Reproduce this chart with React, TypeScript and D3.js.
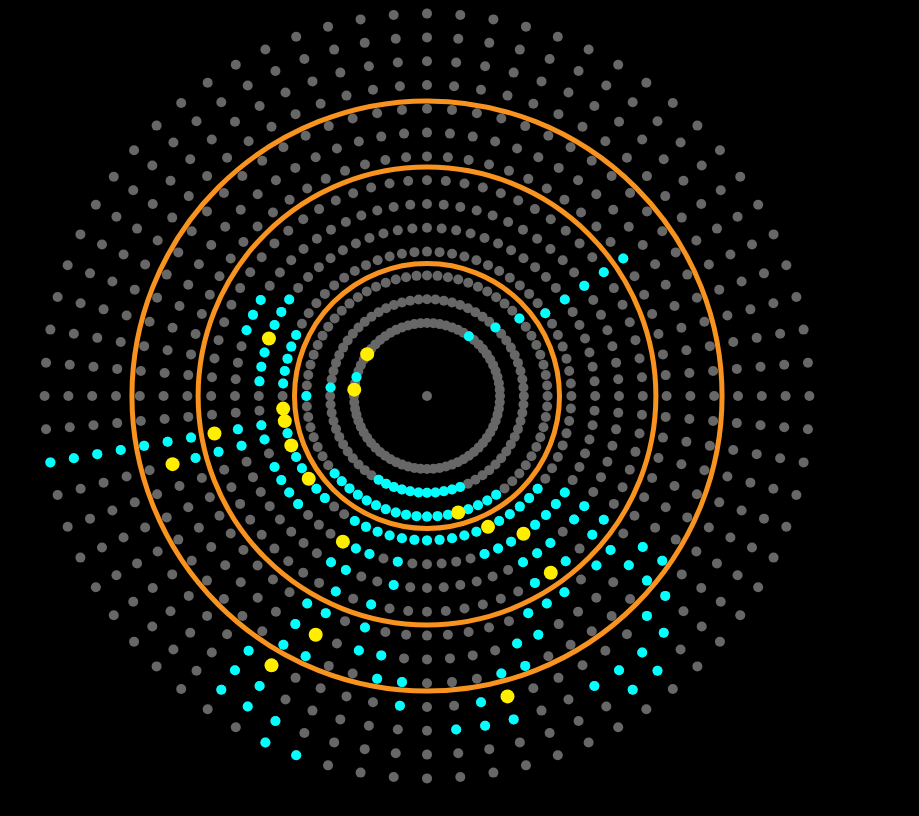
import * as d3 from 'd3'

const width = 919
const height = 816
const cx = 427
const cy = 396

const ringCount = 14
const spokeCount = 72

// highlighted dots: [ring, spoke]
const cyanDots: [number, number][] = [
    [0, 7], [0, 57],
    [1, 9], [1, 55], [1, 32], [1, 33], [1, 34], [1, 35], [1, 36], [1, 37], [1, 38], [1, 39], [1, 40], [1, 41], [1, 42],
    [2, 10], [2, 54], [2, 29], [2, 30], [2, 31], [2, 32], [2, 34], [2, 35], [2, 36], [2, 37], [2, 38], [2, 39],
    [2, 40], [2, 41], [2, 42], [2, 43], [2, 44], [2, 45], [2, 46],
    [3, 11], [3, 26], [3, 27], [3, 28], [3, 29], [3, 30], [3, 32], [3, 33], [3, 34], [3, 35], [3, 36], [3, 37],
    [3, 38], [3, 39], [3, 40], [3, 41], [3, 42], [3, 45], [3, 46], [3, 48], [3, 49], [3, 51], [3, 55], [3, 56],
    [3, 57], [3, 58], [3, 59],
    [4, 11], [4, 25], [4, 26], [4, 27], [4, 28], [4, 30], [4, 31], [4, 32], [4, 38], [4, 40], [4, 41], [4, 46],
    [4, 47], [4, 48], [4, 49], [4, 51], [4, 52], [4, 55], [4, 56], [4, 57], [4, 59], [4, 60], [4, 61],
    [5, 11], [5, 25], [5, 26], [5, 28], [5, 29], [5, 30], [5, 38], [5, 41], [5, 42], [5, 51], [5, 52], [5, 58],
    [5, 59], [5, 60],
    [6, 11], [6, 25], [6, 26], [6, 28], [6, 30], [6, 39], [6, 41], [6, 51],
    [7, 11], [7, 26], [7, 27], [7, 29], [7, 30], [7, 31], [7, 39], [7, 41], [7, 42], [7, 51], [7, 52],
    [8, 25], [8, 26], [8, 31], [8, 32], [8, 38], [8, 39], [8, 42], [8, 52],
    [9, 25], [9, 26], [9, 32], [9, 33], [9, 37], [9, 38], [9, 41], [9, 42], [9, 52],
    [10, 26], [10, 27], [10, 34], [10, 37], [10, 43], [10, 52],
    [11, 27], [11, 28], [11, 29], [11, 30], [11, 33], [11, 34], [11, 35], [11, 42], [11, 43], [11, 52],
    [12, 28], [12, 29], [12, 41], [12, 42], [12, 43], [12, 52],
    [13, 40], [13, 41], [13, 52],
]

const yellowDots: [number, number][] = [
    [0, 55], [0, 61], [2, 33], [3, 31], [3, 47], [3, 50], [3, 52], [3, 53],
    [4, 29], [4, 42], [4, 58], [6, 29], [6, 52], [8, 41], [8, 51], [10, 33], [10, 42],
]

// orange boundary circles, in ring units
const orangeRings = [2.5, 6.55, 9.33]

const rScale = d3.scaleLinear().domain([0, ringCount - 1]).range([73, 382.4])
const aScale = d3.scaleLinear().domain([0, spokeCount]).range([0, 2 * Math.PI])

const pos = (ring: number, spoke: number) => d3.pointRadial(aScale(spoke), rScale(ring))

export default function App() {
    const grid = d3.cross(d3.range(ringCount), d3.range(spokeCount))

    return (
        <div style={{ position: 'fixed', inset: 0, background: '#000' }}>
            <svg width={width} height={height} style={{ display: 'block', background: '#000' }}>
                <g transform={`translate(${cx},${cy})`}>
                    <circle r={5} fill="#676767" />
                    {grid.map(([ring, spoke]) => {
                        const [x, y] = pos(ring, spoke)
                        return <circle key={`g${ring}-${spoke}`} cx={x} cy={y} r={5} fill="#676767" />
                    })}
                    {orangeRings.map((d) => (
                        <circle key={`o${d}`} r={rScale(d)} fill="none" stroke="#f7931e" strokeWidth={5} />
                    ))}
                    {cyanDots.map(([ring, spoke]) => {
                        const [x, y] = pos(ring, spoke)
                        return <circle key={`c${ring}-${spoke}`} cx={x} cy={y} r={5} fill="#00ffff" />
                    })}
                    {yellowDots.map(([ring, spoke]) => {
                        const [x, y] = pos(ring, spoke)
                        return <circle key={`y${ring}-${spoke}`} cx={x} cy={y} r={7} fill="#ffee00" />
                    })}
                </g>
            </svg>
        </div>
    )
}
